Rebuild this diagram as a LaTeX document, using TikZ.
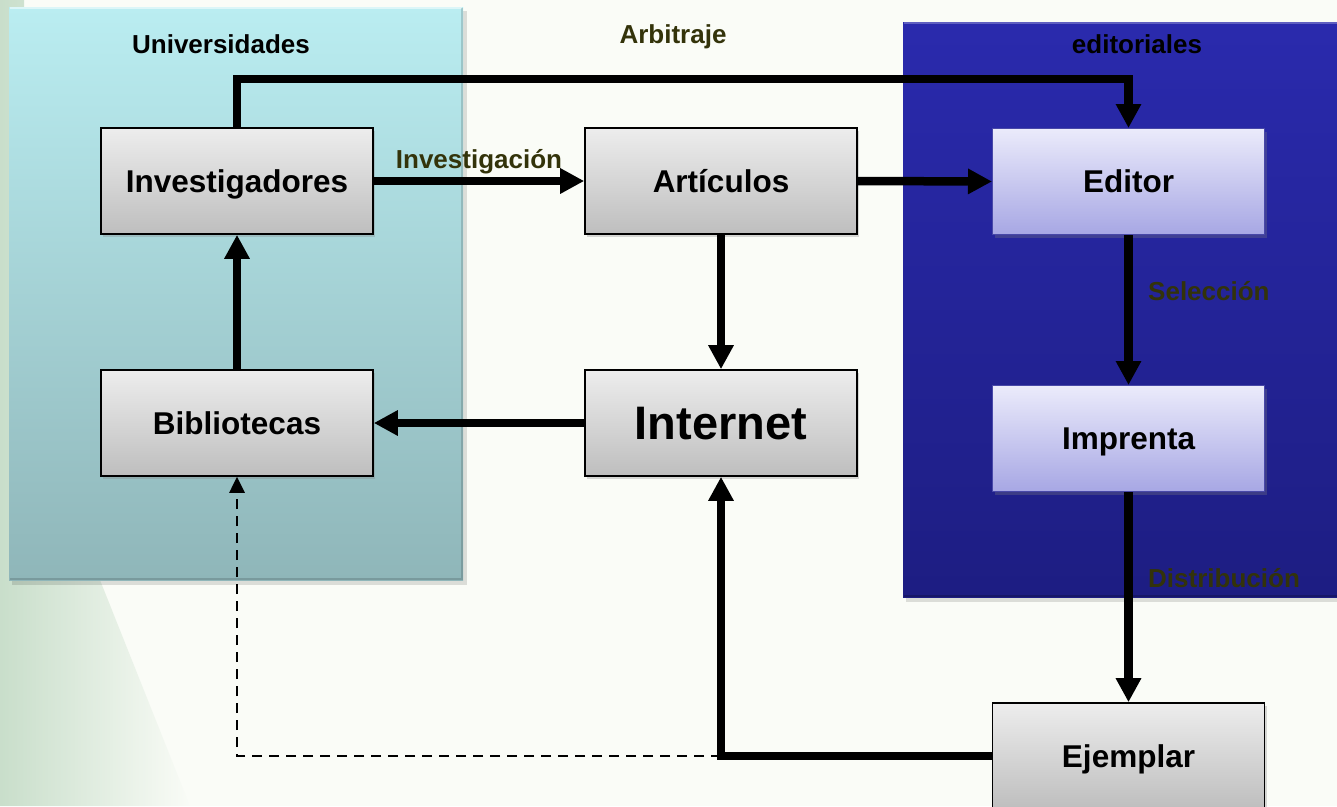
\documentclass[tikz,border=0pt]{standalone}
\usepackage{fontspec}
\setmainfont{Liberation Sans}
\usetikzlibrary{arrows.meta,shadows,calc,fadings}
\definecolor{bg}{HTML}{FAFCF7}
\definecolor{leafg}{HTML}{B4D2B8}
\definecolor{uniTop}{HTML}{BAEDF1}
\definecolor{uniBot}{HTML}{8FB6B9}
\definecolor{edTop}{HTML}{2A2AAD}
\definecolor{edBot}{HTML}{1D1D82}
\definecolor{gTop}{HTML}{EDEDED}
\definecolor{gBot}{HTML}{BEBEBE}
\definecolor{lTop}{HTML}{EBEBFB}
\definecolor{lBot}{HTML}{A7A7E4}
\definecolor{lBorder}{HTML}{4848A8}
\definecolor{olive}{HTML}{33330A}
\tikzset{
  basebox/.style={minimum width=272pt, minimum height=106pt, inner sep=0pt,
    font=\fontsize{31.5}{36}\selectfont\bfseries, text height=22.6pt, text depth=0pt,
    drop shadow={opacity=0.3, shadow xshift=2pt, shadow yshift=-3pt}},
  graybox/.style={basebox, draw=black, line width=1.6pt, top color=gTop, bottom color=gBot},
  lavbox/.style={basebox, draw=lBorder, line width=1pt, top color=lTop, bottom color=lBot},
  flow/.style={line width=8.5pt, -{Triangle[length=24pt,width=24pt]}},
  dashline/.style={line width=2.8pt, dash pattern=on 10pt off 7pt, -{Triangle[length=16pt,width=15pt]}},
  lbl/.style={font=\fontsize{26}{30}\selectfont\bfseries, text=olive, inner sep=0pt, text height=18.6pt, text depth=0pt},
  title/.style={font=\fontsize{26}{30}\selectfont\bfseries, text=black, inner sep=0pt, text height=18.6pt, text depth=0pt}
}
\begin{document}
\begin{tikzpicture}[x=1pt,y=-1pt]
\useasboundingbox (0,0) rectangle (1337,806);
\fill[bg] (0,0) rectangle (1337,806);
% faint leaf background on the left
\fill[leafg, path fading=east, opacity=0.7] (0,0) -- (24,0) -- (30,300) -- (100,580) -- (190,806) -- (0,806) -- cycle;
% panels
\fill[black, opacity=0.12] (12,11) rectangle (467,585);
\shade[top color=uniTop, bottom color=uniBot] (9,7) rectangle (463,580);
\draw[white, opacity=0.5, line width=2pt] (10,8) -- (462,8);
\draw[black, opacity=0.15, line width=2pt] (462,8) -- (462,579) -- (10,579);
\fill[black, opacity=0.12] (906,26) rectangle (1345,602);
\shade[top color=edTop, bottom color=edBot] (903,22) rectangle (1345,597);
\draw[white, opacity=0.25, line width=2pt] (904,23) -- (1345,23);
\draw[black, opacity=0.2, line width=2pt] (904,596) -- (1345,596);
% panel titles and labels
\node[title] (tuni) at (221,44) {Universidades};
\node[title] (tedi) at (1137,44) {editoriales};
\node[lbl] (arb) at (673,34) {Arbitraje};
% boxes
\node[graybox] (inv) at (237,181) {Investigadores};
\node[graybox] (art) at (721,181) {Artículos};
\node[lavbox] (ed) at (1128.5,181.5) {Editor};
\node[graybox] (bib) at (237,423) {Bibliotecas};
\node[graybox, font=\fontsize{47}{52}\selectfont\bfseries, text height=33.7pt] (int) at (721,423) {Internet};
\node[lavbox] (imp) at (1128.5,438.5) {Imprenta};
\node[graybox] (ejm) at (1128.5,756) {Ejemplar};
% connectors
\draw[flow] (inv.north) -- ++(0,-48) -| (ed.north);
\draw[flow] (inv.east) -- (art.west) node[lbl, midway, anchor=center, yshift=22pt] (linv) {Investigación};
\draw[flow] (art.east) -- (ed.west);
\draw[flow] (art.south) -- (int.north);
\draw[flow] (int.west) -- (bib.east);
\draw[flow] (bib.north) -- (inv.south);
\draw[flow] (ed.south) -- (imp.north);
\draw[flow] (imp.south) -- (ejm.north);
\coordinate (dj) at (int.south |- ejm.west);
\draw[dashline] (dj) -| (bib.south);
\draw[flow] (ejm.west) -| (int.south);
\node[lbl, anchor=west] (sel) at (1148,291) {Selección};
\node[lbl, anchor=west] (dis) at (1148,578) {Distribución};
\end{tikzpicture}
\end{document}
